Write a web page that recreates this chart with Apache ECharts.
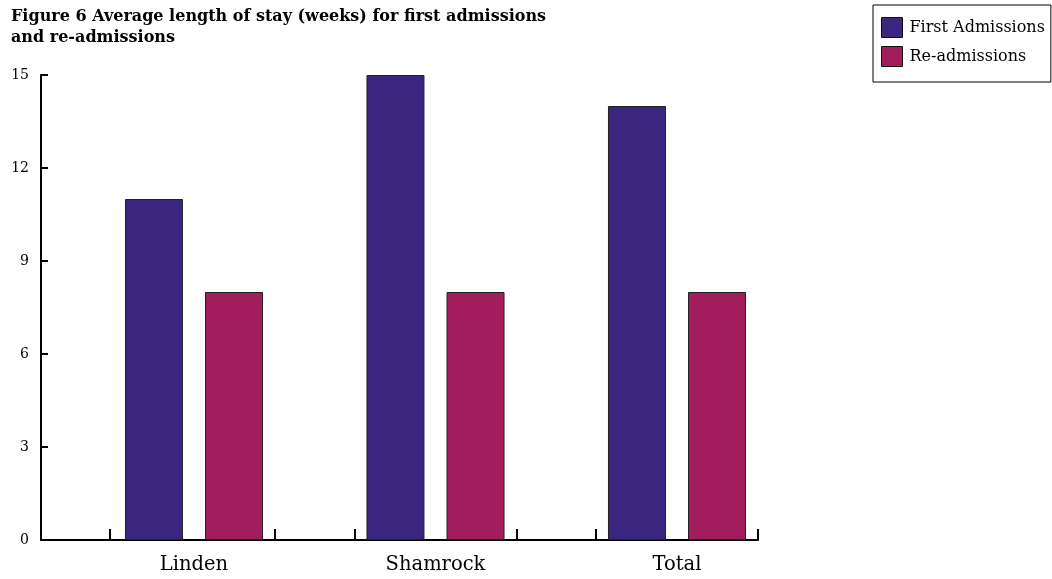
<!DOCTYPE html>
<html>
<head>
<meta charset="utf-8">
<script src="https://cdn.jsdelivr.net/npm/echarts@6/dist/echarts.min.js"></script>
<style>
  html, body { margin: 0; padding: 0; background: #fff; }
  #chart { width: 1052px; height: 579px; }
</style>
</head>
<body>
<div id="chart"></div>
<script>
// Average length of stay (weeks) per unit
const categories = ['Linden', 'Shamrock', 'Total'];
const firstAdmissions = [11, 15, 14];
const reAdmissions = [8, 8, 8];
const seriesNames = ['First Admissions', 'Re-admissions'];

// Value axis ticks (weeks)
const yMin = 0, yMax = 15, yStep = 3;

// Group edges on the base line, in category-index units (0 = first category centre)
const axisStart = -0.6335, axisEnd = 2.335;
const groupEdges = [-0.35, 0.335, 0.665, 1.335, 1.665, 2.335];

const serif = '"DejaVu Serif", serif';
const colors = ['#3a267f', '#a11d5b'];

const chart = echarts.init(document.getElementById('chart'), null, { renderer: 'canvas' });

chart.setOption({
  animation: false,
  backgroundColor: '#ffffff',
  title: {
    text: 'Figure 6 Average length of stay (weeks) for first admissions\nand re-admissions',
    left: 11,
    top: 6,
    padding: 0,
    textStyle: {
      fontFamily: serif,
      fontWeight: 'bold',
      fontSize: 16,
      lineHeight: 21,
      color: '#000'
    }
  },
  legend: {
    data: seriesNames,
    orient: 'vertical',
    left: 873,
    top: 5,
    padding: [12, 6, 15, 8],
    itemGap: 8,
    itemWidth: 21,
    itemHeight: 20,
    borderColor: '#000',
    borderWidth: 1,
    icon: 'rect',
    itemStyle: { borderColor: '#111', borderWidth: 1 },
    textStyle: { fontFamily: serif, fontSize: 16, color: '#000', padding: [0, 0, 0, 2] }
  },
  grid: [
    // bars
    { left: 73.25, right: 254.25, top: 75, bottom: 39 },
    // visible axes
    { left: 41, right: 294, top: 75, bottom: 39 }
  ],
  xAxis: [
    {
      type: 'category',
      gridIndex: 0,
      data: categories,
      axisLine: { show: false },
      axisTick: { show: false },
      axisLabel: { fontFamily: serif, fontSize: 19.5, color: '#000', margin: 15 }
    },
    {
      type: 'value',
      gridIndex: 1,
      min: axisStart,
      max: axisEnd,
      splitLine: { show: false },
      axisLine: { show: true, onZero: false, lineStyle: { color: '#000', width: 2 } },
      axisTick: {
        show: true,
        inside: true,
        length: 11,
        customValues: groupEdges,
        lineStyle: { color: '#000', width: 2 }
      },
      axisLabel: { show: false }
    }
  ],
  yAxis: [
    {
      type: 'value',
      gridIndex: 0,
      min: yMin,
      max: yMax,
      interval: yStep,
      show: false
    },
    {
      type: 'value',
      gridIndex: 1,
      min: yMin,
      max: yMax,
      interval: yStep,
      splitLine: { show: false },
      axisLine: { show: true, onZero: false, lineStyle: { color: '#000', width: 2 } },
      axisTick: { show: true, inside: true, length: 7, lineStyle: { color: '#000', width: 2 } },
      axisLabel: { fontFamily: serif, fontSize: 14, color: '#000', margin: 12 }
    }
  ],
  series: [
    {
      name: seriesNames[0],
      type: 'bar',
      xAxisIndex: 0,
      yAxisIndex: 0,
      data: firstAdmissions,
      barWidth: 58,
      barGap: '38%',
      itemStyle: { color: colors[0], borderColor: '#222', borderWidth: 1 }
    },
    {
      name: seriesNames[1],
      type: 'bar',
      xAxisIndex: 0,
      yAxisIndex: 0,
      data: reAdmissions,
      barWidth: 58,
      barGap: '38%',
      itemStyle: { color: colors[1], borderColor: '#222', borderWidth: 1 }
    }
  ]
});
</script>
</body>
</html>
